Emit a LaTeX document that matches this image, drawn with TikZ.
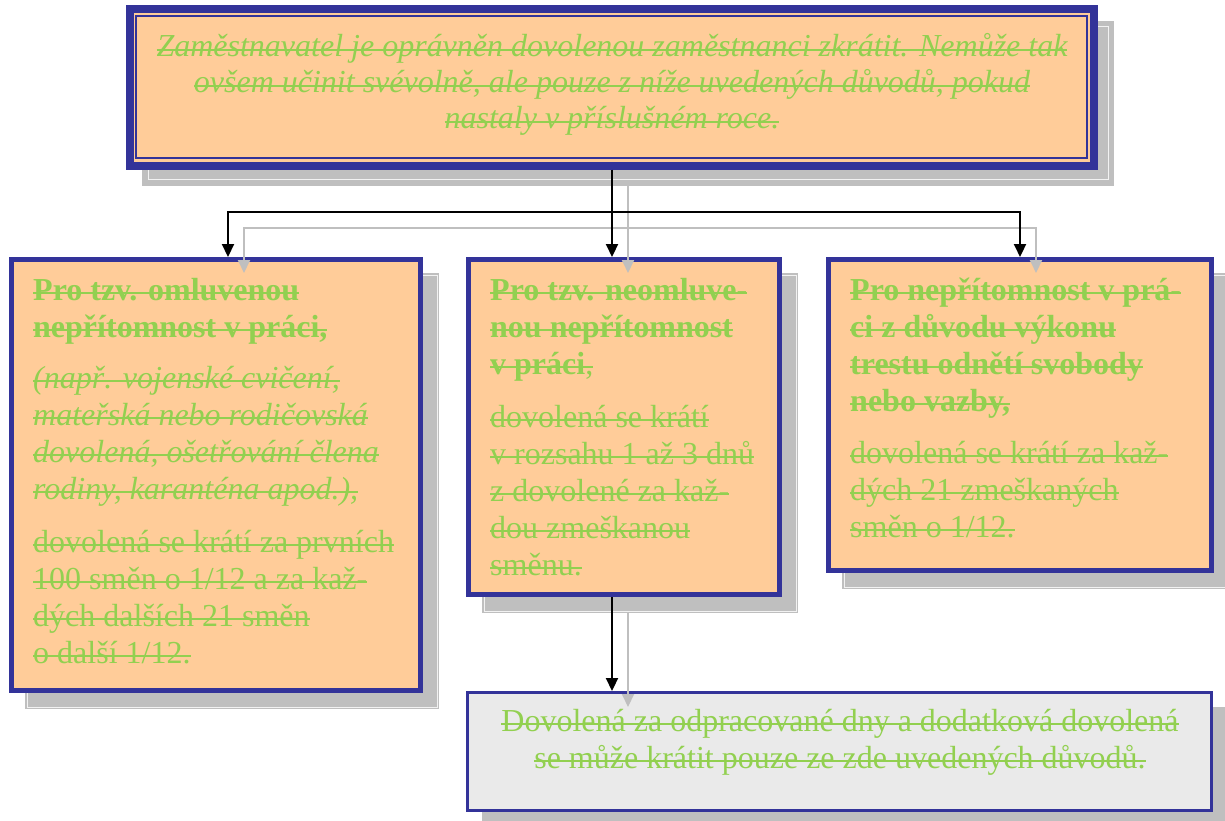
\documentclass[tikz,border=0pt]{standalone}
\usepackage{fontspec}
\setmainfont{Liberation Serif}
\usetikzlibrary{calc,arrows.meta,backgrounds}

\definecolor{frameblue}{HTML}{333399}
\definecolor{peach}{HTML}{FFCC99}
\definecolor{txtgreen}{HTML}{92D050}
\definecolor{shadowgrey}{HTML}{BFBFBF}
\definecolor{shadowline}{HTML}{F2F2F2}
\definecolor{notegrey}{HTML}{EAEAEA}

% struck-through lines: upright, bold and italic
\newsavebox{\strkbox}
\newcommand{\sR}[1]{\sbox{\strkbox}{#1}\rlap{\usebox{\strkbox}}\raisebox{0.38ex}{\rule{\wd\strkbox}{2.2pt}}}
\newcommand{\sB}[1]{\sR{\bfseries #1}}
\newcommand{\sI}[1]{\sR{\itshape #1}}

\begin{document}
\begin{tikzpicture}[x=1pt,y=-1pt,
  box/.style={rectangle, draw=frameblue, line width=5pt, fill=peach, inner sep=0pt},
  headbox/.style={box, line width=8pt},
  notebox/.style={box, line width=3pt, fill=notegrey},
  conn/.style={line width=2.2pt, black, -{Triangle[length=13pt,width=12pt]}},
  shadowconn/.style={line width=2pt, shadowgrey, -{Triangle[length=13pt,width=12pt]}},
  txt/.style={inner sep=0pt, text=txtgreen, font=\fontsize{32}{37}\selectfont}
]
\clip (0,0) rectangle (1225,821);
\useasboundingbox (0,0) rectangle (1225,821);

% boxes
\node[headbox, minimum width=964pt, minimum height=157pt] (top) at (612,87.5) {};
\node[box, minimum width=409pt, minimum height=431pt] (left) at (216,475) {};
\node[box, minimum width=311pt, minimum height=335pt] (mid) at (624,427) {};
\node[box, minimum width=383pt, minimum height=311pt] (right) at (1020,415) {};
\node[notebox, minimum width=744pt, minimum height=118pt] (bottom) at (839.5,751.5) {};

% thin inner frame of the heading box
\draw[frameblue, line width=1.6pt] ($(top.north west)+(10,11)$) rectangle ($(top.south east)+(-11,-12)$);

% drop shadows
\begin{scope}[on background layer]
  \foreach \n in {top, left, mid, right, bottom} {
    \fill[shadowgrey] ($(\n.north west)+(16,16)$) rectangle ($(\n.south east)+(16,16)$);
  }
  \foreach \n/\d in {top/6, left/2, mid/2, right/2} {
    \draw[shadowline, line width=1pt] ($(\n.north west)+(16+\d,16+\d)$) rectangle ($(\n.south east)+(16-\d,16-\d)$);
  }
\end{scope}

% connector bus level
\coordinate (bus) at (0,212);

% shadows of the connectors
\begin{scope}[transform canvas={shift={(16,16)}}]
  \draw[shadowconn] (top.south) -- (top.south |- bus) -| ($(left.north)+(12,0)$);
  \draw[shadowconn] (top.south) -- (mid.north -| top.south);
  \draw[shadowconn] (top.south) -- (top.south |- bus) -| (right.north);
  \draw[shadowconn] (mid.south -| top.south) -- (bottom.north -| top.south);
\end{scope}

% connectors
\draw[conn] (top.south) -- (top.south |- bus) -| ($(left.north)+(12,0)$);
\draw[conn] (top.south) -- (mid.north -| top.south);
\draw[conn] (top.south) -- (top.south |- bus) -| (right.north);
\draw[conn] (mid.south -| top.south) -- (bottom.north -| top.south);

% texts
\node[txt, anchor=base, font=\fontsize{32}{36}\selectfont\itshape] (topText) at (612,57) {%
  \begin{tabular}[t]{@{}c@{}}
  \sR{Zaměstnavatel je oprávněn dovolenou zaměstnanci zkrátit. Nemůže tak}\\
  \sR{ovšem učinit svévolně, ale pouze z níže uvedených důvodů, pokud}\\
  \sR{nastaly v příslušném roce.}
  \end{tabular}};

\node[txt, anchor=base west] (leftText) at (33,300) {%
  \begin{tabular}[t]{@{}l@{}}
  \sB{Pro tzv. omluvenou}\\
  \sB{nepřítomnost v práci,}\\[14pt]
  \sI{(např. vojenské cvičení,}\\
  \sI{mateřská nebo rodičovská}\\
  \sI{dovolená, ošetřování člena}\\
  \sI{rodiny, karanténa apod.),}\\[16pt]
  \sR{dovolená se krátí za prvních}\\
  \sR{100 směn o 1/12 a za kaž-}\\
  \sR{dých dalších 21 směn}\\
  \sR{o další 1/12.}
  \end{tabular}};

\node[txt, anchor=base west] (midText) at (490,300) {%
  \begin{tabular}[t]{@{}l@{}}
  \sB{Pro tzv. neomluve-}\\
  \sB{nou nepřítomnost}\\
  \sR{\textbf{v práci},}\\[16pt]
  \sR{dovolená se krátí}\\
  \sR{v rozsahu 1 až 3 dnů}\\
  \sR{z dovolené za kaž-}\\
  \sR{dou zmeškanou}\\
  \sR{směnu.}
  \end{tabular}};

\node[txt, anchor=base west] (rightText) at (850,300) {%
  \begin{tabular}[t]{@{}l@{}}
  \sB{Pro nepřítomnost v prá-}\\
  \sB{ci z důvodu výkonu}\\
  \sB{trestu odnětí svobody}\\
  \sB{nebo vazby,}\\[15pt]
  \sR{dovolená se krátí za kaž-}\\
  \sR{dých 21 zmeškaných}\\
  \sR{směn o 1/12.}
  \end{tabular}};

\node[txt, anchor=base] (bottomText) at (840,731) {%
  \begin{tabular}[t]{@{}c@{}}
  \sR{Dovolená za odpracované dny a dodatková dovolená}\\
  \sR{se může krátit pouze ze zde uvedených důvodů.}
  \end{tabular}};
\end{tikzpicture}
\end{document}
